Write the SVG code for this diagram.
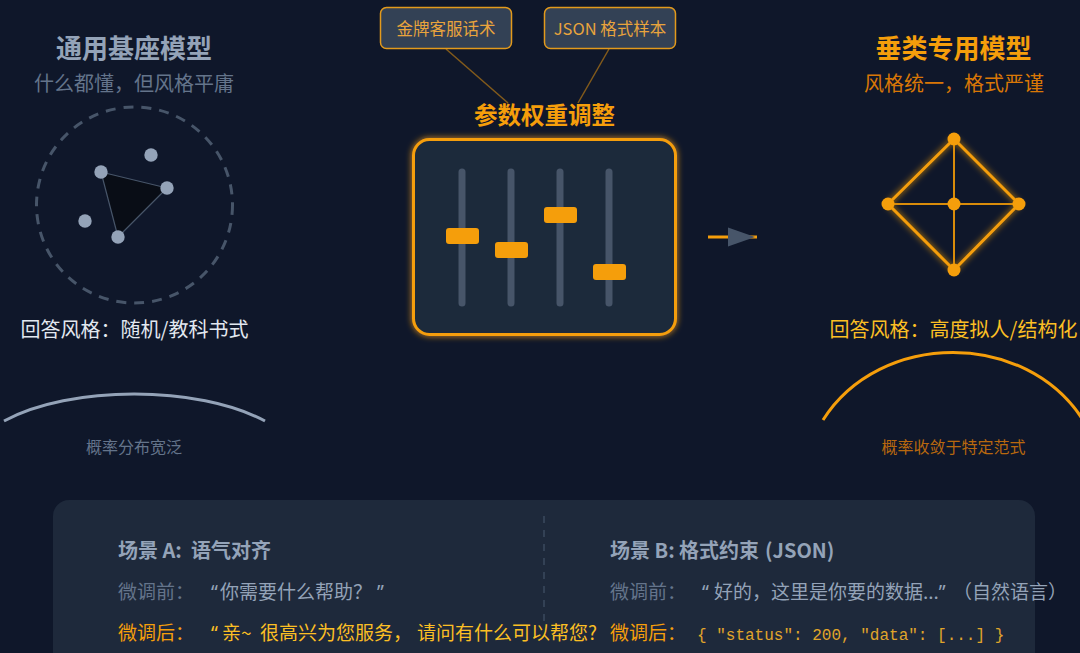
<svg xmlns="http://www.w3.org/2000/svg" width="1080" height="653" viewBox="0 0 1080 653">
<defs>
<style>
.cjk{font-family:"Noto Sans CJK SC","Noto Sans",sans-serif;}
.title{font-size:26px;font-weight:bold;text-anchor:middle;}
.sub{font-size:20px;text-anchor:middle;}
.style{font-size:20px;text-anchor:middle;}
.prob{font-size:16px;text-anchor:middle;}
.tag{font-size:16.5px;text-anchor:middle;fill:#e9a43c;}
.tagbox{fill:#334155;stroke:#e39a1c;stroke-width:1.5;}
.track{stroke:#475569;stroke-width:7;stroke-linecap:round;}
.knob{fill:#f59e0b;}
.bh{font-size:20px;font-weight:bold;fill:#94a3b8;}
.bl{font-size:19px;}
.q{font-family:"Noto Sans","Liberation Sans",sans-serif;}
.mono{font-family:"Liberation Mono","DejaVu Sans Mono",monospace;font-size:16px;}
</style>
<filter id="glow" x="-20%" y="-20%" width="140%" height="140%">
<feGaussianBlur in="SourceGraphic" stdDeviation="3" result="b"/>
<feMerge><feMergeNode in="b"/><feMergeNode in="SourceGraphic"/></feMerge>
</filter>
</defs>
<rect width="1080" height="653" fill="#0f172a"/>

<g id="base-model" class="cjk">
<text class="title" x="134" y="58" fill="#94a3b8">通用基座模型</text>
<text class="sub" x="134" y="91" fill="#64748b">什么都懂，但风格平庸</text>
<circle cx="134.5" cy="205" r="98" fill="none" stroke="#475569" stroke-width="3" stroke-dasharray="10 8"/>
<path d="M101,172 L167,188 L118,237 Z" fill="#090d16" stroke="#475569" stroke-width="1.2"/>
<g fill="#94a3b8">
<circle cx="151" cy="155" r="6.7"/>
<circle cx="101" cy="172" r="6.7"/>
<circle cx="167" cy="188" r="6.7"/>
<circle cx="85" cy="221" r="6.7"/>
<circle cx="118" cy="237" r="6.7"/>
</g>
<text class="style" x="134.5" y="337" fill="#e2e8f0">回答风格：随机/教科书式</text>
<path d="M4,421 C70,385 198,385 265,421" fill="none" stroke="#94a3b8" stroke-width="3"/>
<text class="prob" x="134" y="453" fill="#64748b">概率分布宽泛</text>
</g>

<g id="sample-service" class="cjk">
<rect class="tagbox" x="380.5" y="7.5" width="131" height="41" rx="6"/>
<text class="tag" x="446" y="35">金牌客服话术</text>
</g>
<g id="sample-json" class="cjk">
<rect class="tagbox" x="544.5" y="7.5" width="131" height="41" rx="6"/>
<text class="tag" x="610" y="35">JSON 格式样本</text>
</g>

<g id="tuning" class="cjk">
<text x="544.5" y="124" font-size="23.5" font-weight="bold" text-anchor="middle" fill="#f59e0b">参数权重调整</text>
<rect x="413.5" y="139.5" width="262" height="195" rx="16" fill="#1e293b" stroke="#f59e0b" stroke-width="3" filter="url(#glow)"/>
<line class="track" x1="462" y1="172" x2="462" y2="303"/>
<line class="track" x1="511" y1="172" x2="511" y2="303"/>
<line class="track" x1="560" y1="172" x2="560" y2="303"/>
<line class="track" x1="609" y1="172" x2="609" y2="303"/>
<rect class="knob" x="446" y="228" width="33" height="16" rx="3"/>
<rect class="knob" x="495" y="242" width="33" height="16" rx="3"/>
<rect class="knob" x="544" y="207" width="33" height="16" rx="3"/>
<rect class="knob" x="593" y="264" width="33" height="16" rx="3"/>
</g>

<g id="connectors">
<line x1="446" y1="49" x2="508" y2="103" stroke="#f59e0b" stroke-opacity="0.5" stroke-width="1.5"/>
<line x1="609" y1="49" x2="578" y2="103" stroke="#f59e0b" stroke-opacity="0.5" stroke-width="1.5"/>
<line x1="708" y1="237" x2="757" y2="237" stroke="#f59e0b" stroke-width="3"/>
<path d="M728,227.5 L755,237 L728,246.5 Z" fill="#475569"/>
</g>

<g id="vertical-model" class="cjk">
<text class="title" x="953.5" y="58" fill="#f59e0b">垂类专用模型</text>
<text class="sub" x="954" y="91" fill="#d97706">风格统一，格式严谨</text>
<g filter="url(#glow)">
<path d="M954,139 L1019,204 L954,270 L888,204 Z" fill="none" stroke="#f59e0b" stroke-width="3" stroke-linejoin="round"/>
</g>
<line x1="954" y1="139" x2="954" y2="270" stroke="#d98c0a" stroke-width="2"/>
<line x1="888" y1="204" x2="1019" y2="204" stroke="#d98c0a" stroke-width="2"/>
<g fill="#f59e0b">
<circle cx="954" cy="139" r="6.5"/>
<circle cx="888" cy="204" r="6.5"/>
<circle cx="1019" cy="204" r="6.5"/>
<circle cx="954" cy="270" r="6.5"/>
<circle cx="954" cy="204" r="6.5"/>
</g>
<text class="style" x="953.5" y="337" fill="#fbbf24">回答风格：高度拟人/结构化</text>
<path d="M823,420 C880,330 1026,330 1083,420" fill="none" stroke="#f59e0b" stroke-width="3"/>
<text class="prob" x="953.5" y="453" fill="#b8680e">概率收敛于特定范式</text>
</g>

<g id="scenario-panel" class="cjk">
<rect x="53" y="500" width="982" height="180" rx="16" fill="#1e293b"/>
<line x1="544" y1="516" x2="544" y2="623" stroke="#334155" stroke-width="2" stroke-dasharray="7 7"/>
<text class="bh" x="118" y="558">场景 A: <tspan x="191">语气对齐</tspan></text>
<text class="bl" x="118" y="599" fill="#64748b">微调前：</text>
<text class="bl" x="211" y="599" fill="#94a3b8"><tspan class="q">“</tspan><tspan x="220">你需要什么帮助？</tspan><tspan class="q" x="377">”</tspan></text>
<text class="bl" x="118" y="640" fill="#f59e0b">微调后：</text>
<text class="bl" x="211" y="640" fill="#fbbf24"><tspan class="q">“</tspan><tspan x="222">亲~</tspan><tspan x="260">很高兴为您服务，</tspan><tspan x="417">请问有什么可以帮您?</tspan></text>
<text class="bh" x="610" y="558">场景 B: <tspan x="679">格式约束</tspan><tspan x="765">(JSON)</tspan></text>
<text class="bl" x="610" y="599" fill="#64748b">微调前：</text>
<text class="bl" x="702" y="599" fill="#94a3b8"><tspan class="q">“</tspan><tspan x="714">好的，这里是你要的数据...</tspan><tspan class="q">”</tspan><tspan x="953">（自然语言）</tspan></text>
<text class="bl" x="610" y="640" fill="#f59e0b">微调后：</text>
<text class="mono" x="697" y="640" fill="#e0a52a">{ "status": 200, "data": [...] }</text>
</g>
</svg>
